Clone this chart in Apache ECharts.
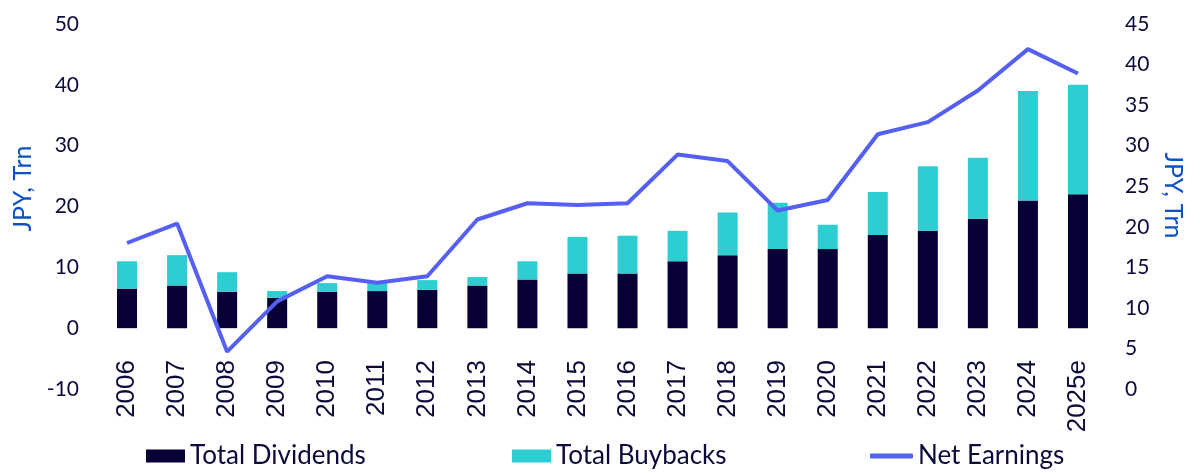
<!DOCTYPE html>
<html><head><meta charset="utf-8">
<script src="https://cdn.jsdelivr.net/npm/echarts@6/dist/echarts.min.js"></script>
<style>html,body{margin:0;padding:0;background:#fff}#c{width:1200px;height:473px}</style>
</head><body><div id="c"></div>
<script>
const categories = ['2006','2007','2008','2009','2010','2011','2012','2013','2014','2015','2016','2017','2018','2019','2020','2021','2022','2023','2024','2025e'];
const totalDividends = [6.5,7,6,5,6,6.1,6.3,7,8,9,9,11,12,13,13,15.3,16,18,21,22];
const totalBuybacks = [4.5,5,3.2,1.1,1.4,1.3,1.6,1.4,3,6,6.2,5,7,7.6,4,7.1,10.6,10,18,18];
const netEarnings = [18,20.4,4.6,10.8,13.9,13.1,13.9,20.9,22.9,22.7,22.9,28.9,28.1,22,23.3,31.4,32.9,36.8,41.9,38.9];
const leftTicks = {min:-10,max:50,interval:10};
const rightTicks = {min:0,max:45,interval:5};

const FONT = 'Lato';
const TXT = '#0b0a3a';
const NAMEC = '#0d52c4';
const legendText = {fontSize:26,color:TXT,fontFamily:FONT};
const chart = echarts.init(document.getElementById('c'));
chart.setOption({
  animation:false,
  textStyle:{fontFamily:FONT},
  grid:{left:102,right:97,top:24,bottom:84,containLabel:false,outerBoundsMode:'none'},
  legend:[
    {top:443,left:146,padding:0,itemWidth:39,itemHeight:13,textStyle:legendText,data:[{name:'Total Dividends',icon:'rect'}]},
    {top:443,left:512,padding:0,itemWidth:39,itemHeight:13,textStyle:legendText,data:[{name:'Total Buybacks',icon:'rect'}]},
    {top:443,left:870,padding:0,itemWidth:43,itemHeight:5,textStyle:legendText,data:[{name:'Net Earnings',icon:'roundRect'}]}
  ],
  xAxis:{
    type:'category',data:categories,
    axisLine:{show:false,onZero:false},axisTick:{show:false},
    axisLabel:{rotate:90,fontSize:26,fontFamily:'Liberation Sans',color:TXT,margin:-29,interval:0}
  },
  yAxis:[{
    type:'value',min:leftTicks.min,max:leftTicks.max,interval:leftTicks.interval,
    name:'JPY, Trn',nameLocation:'middle',nameGap:67,nameRotate:90,
    nameTextStyle:{color:NAMEC,fontSize:25,padding:[0,0,0,36]},
    splitLine:{show:false},axisLine:{show:false},axisTick:{show:false},
    axisLabel:{fontSize:21,color:TXT,margin:23}
  },{
    type:'value',min:rightTicks.min,max:rightTicks.max,interval:rightTicks.interval,
    name:'JPY, Trn',nameLocation:'middle',nameGap:54,nameRotate:-90,
    nameTextStyle:{color:NAMEC,fontSize:25,padding:[0,22,0,0]},
    splitLine:{show:false},axisLine:{show:false},axisTick:{show:false},
    axisLabel:{fontSize:21,color:TXT,margin:22}
  }],
  series:[
    {name:'Total Dividends',type:'bar',stack:'a',barWidth:20,data:totalDividends,itemStyle:{color:'#060036'}},
    {name:'Total Buybacks',type:'bar',stack:'a',barWidth:20,data:totalBuybacks,itemStyle:{color:'#2ecdd2'}},
    {name:'Net Earnings',type:'line',yAxisIndex:1,data:netEarnings,symbol:'none',lineStyle:{width:4,color:'#5560f2'},itemStyle:{color:'#5560f2'}}
  ]
});
</script></body></html>
